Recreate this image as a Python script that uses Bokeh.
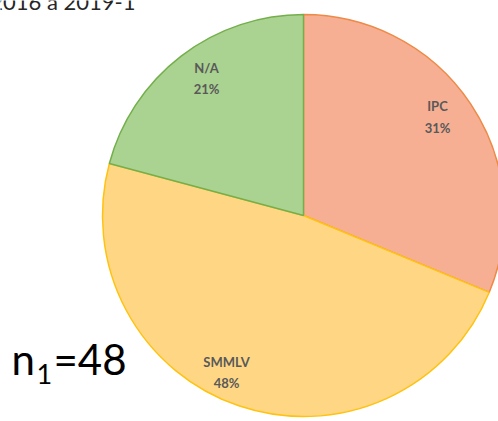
import math
from bokeh.plotting import figure
from bokeh.models import Range1d, ColumnDataSource
from bokeh.core.properties import value
from bokeh.embed import file_html
from bokeh.resources import INLINE

# ---- data ----
categories = ["IPC", "SMMLV", "N/A"]
counts = [15, 23, 10]
percent_labels = ["31%", "48%", "21%"]
n_label = "48"
title_fragment = "2016 a 2019-1"

# ---- styles ----
fills = ["#F6AF92", "#FFD784", "#AAD291"]
borders = ["#EE8A48", "#FFC20E", "#74AF4C"]
W, H = 498, 421
cx, cy_screen, R = 303, 215, 201

def Y(ys):
    return H - ys

total = sum(counts)
starts, ends = [], []
cum = 0
for c in counts:
    a_end = math.pi / 2 - 2 * math.pi * cum / total
    cum += c
    a_start = math.pi / 2 - 2 * math.pi * cum / total
    starts.append(a_start)
    ends.append(a_end)

p = figure(width=W, height=H, output_backend="svg", toolbar_location=None,
           x_range=Range1d(0, W), y_range=Range1d(0, H), min_border=0)
p.axis.visible = False
p.grid.visible = False
p.outline_line_color = None
p.background_fill_color = "white"
p.border_fill_color = "white"

src = ColumnDataSource(dict(x=[cx] * 3, y=[Y(cy_screen)] * 3, start=starts, end=ends,
                            fill=fills, line=borders))
p.wedge(x="x", y="y", radius=R, start_angle="start", end_angle="end", source=src,
        fill_color="fill", line_color="line", line_width=1.5)

# labels (positions in screen px)
lab_x = [437, 226, 206]
lab_y1 = [105, 361, 67]
lab_y2 = [127, 382, 88]
p.text(x=lab_x, y=[Y(v) for v in lab_y1], text=categories, text_align="center",
       text_baseline="middle", text_font=value("Lato"), text_font_style="bold",
       text_font_size="13px", text_color="#595959")
p.text(x=lab_x, y=[Y(v) for v in lab_y2], text=percent_labels, text_align="center",
       text_baseline="middle", text_font=value("Lato"), text_font_style="bold",
       text_font_size="13px", text_color="#595959")

# n_1 = 48
p.text(x=[11], y=[Y(358)], text=["n"], text_align="left", text_baseline="middle",
       text_font=value("Lato"), text_font_size="42px", text_color="#000000")
p.text(x=[36], y=[Y(373)], text=["1"], text_align="left", text_baseline="middle",
       text_font=value("Lato"), text_font_size="27px", text_color="#000000")
p.text(x=[53], y=[Y(358)], text=["=" + n_label], text_align="left", text_baseline="middle",
       text_font=value("Lato"), text_font_size="42px", text_color="#000000")

# title fragment (cropped at the top)
p.text(x=[135], y=[Y(1)], text=[title_fragment], text_align="right", text_baseline="middle",
       text_font=value("Lato"), text_font_size="22px", text_color="#262626")

open("out.html", "w").write(file_html(p, INLINE))
